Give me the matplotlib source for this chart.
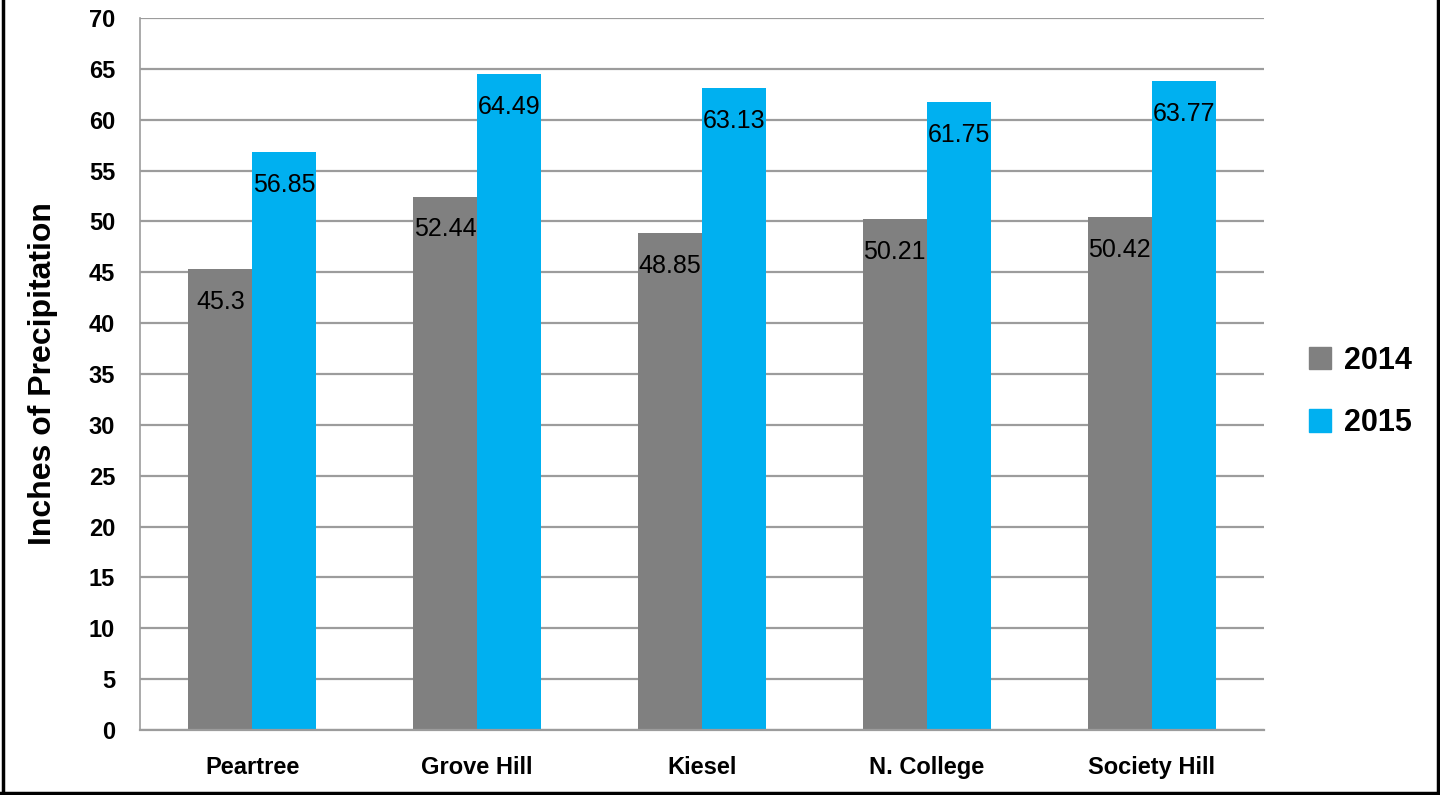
import matplotlib.pyplot as plt
import numpy as np
from matplotlib.patches import Rectangle

plt.rcParams["font.family"] = ["Liberation Sans", "DejaVu Sans"]

stations = ["Peartree", "Grove Hill", "Kiesel", "N. College", "Society Hill"]
precip_2014 = [45.3, 52.44, 48.85, 50.21, 50.42]
precip_2015 = [56.85, 64.49, 63.13, 61.75, 63.77]
years = ["2014", "2015"]
colors = ["#808080", "#00B0F0"]

fig = plt.figure(figsize=(14.4, 7.95), dpi=100)
ax = fig.add_axes([140 / 1440, 65 / 795, 1124 / 1440, 712 / 795])

x = np.arange(len(stations))
w = 0.285
for offset, vals, col in [(-w / 2, precip_2014, colors[0]), (w / 2, precip_2015, colors[1])]:
    bars = ax.bar(x + offset, vals, width=w, color=col, zorder=2)
    for b, v in zip(bars, vals):
        ax.annotate(f"{v:g}", (b.get_x() + b.get_width() / 2, v),
                    xytext=(0, -15), textcoords="offset points",
                    ha="center", va="top", fontsize=18, color="black", zorder=3)

ax.set_xlim(-0.5, len(stations) - 0.5)
ax.set_ylim(0, 70)
ax.set_yticks(np.arange(0, 71, 5))
ax.yaxis.grid(True, color="#9c9c9c", lw=1.6, zorder=0)
ax.set_axisbelow(True)
for s in ["top", "right"]:
    ax.spines[s].set_visible(False)
ax.spines["left"].set_color("#9c9c9c")
ax.spines["left"].set_linewidth(1.2)
ax.spines["bottom"].set_color("#9c9c9c")
ax.spines["bottom"].set_linewidth(1.6)
ax.tick_params(axis="both", length=0)
ax.tick_params(axis="y", pad=18)
ax.tick_params(axis="x", pad=19)
ax.set_xticks(x)
ax.set_xticklabels(stations, fontsize=17, fontweight="bold")
for lbl in ax.get_yticklabels():
    lbl.set_fontsize(17)
    lbl.set_fontweight("bold")
ax.set_ylabel("Inches of Precipitation", fontsize=23, fontweight="bold", labelpad=22)

handles = [Rectangle((0, 0), 1, 1, color=c) for c in colors]
fig.legend(handles, years, loc="center left", bbox_to_anchor=(1281 / 1440, 1 - 392 / 795),
           frameon=False, prop={"size": 22, "weight": "bold"},
           handlelength=0.75, handleheight=0.75, handletextpad=0.4, labelspacing=1.05)

# thin frame on left, right and bottom
frame = dict(color="black", lw=2.5, transform=fig.transFigure, clip_on=False)
fig.add_artist(plt.Line2D([2.5 / 1440, 2.5 / 1440], [0, 1], **frame))
fig.add_artist(plt.Line2D([1437.5 / 1440, 1437.5 / 1440], [0, 1], **frame))
fig.add_artist(plt.Line2D([0, 1], [2.5 / 795, 2.5 / 795], **frame))

fig.savefig("out.png", dpi=100)
